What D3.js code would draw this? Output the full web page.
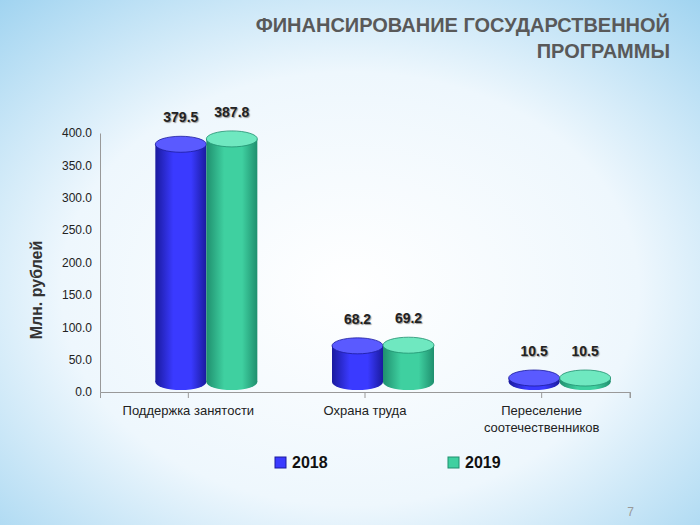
<!DOCTYPE html><html><head><meta charset="utf-8">
<script src="https://cdn.jsdelivr.net/npm/d3@7"></script>
<style>body{margin:0}svg{display:block}</style></head><body>
<script>
const categories=["Поддержка занятости","Охрана труда","Переселение|соотечественников"];
const series=["2018","2019"];
const values2018=[379.5,68.2,10.5];
const values2019=[387.8,69.2,10.5];
const yTicks=[0,50,100,150,200,250,300,350,400];
const colors={"2018":["#1a1a9e","#3a3aff","#5a5aff"],"2019":["#1f8f6e","#3fd0a0","#6fe8c0"]};

const W=700,H=525;
const svg=d3.select("body").append("svg").attr("width",W).attr("height",H).style("font-family","Arial, Liberation Sans, sans-serif");
const defs=svg.append("defs");
const bg=defs.append("radialGradient").attr("id","bg").attr("cx","50%").attr("cy","55%").attr("r","75%");
bg.append("stop").attr("offset","0%").attr("stop-color","#ffffff");
bg.append("stop").attr("offset","55%").attr("stop-color","#eef7fd");
bg.append("stop").attr("offset","100%").attr("stop-color","#9fd3f0");
svg.append("rect").attr("width",W).attr("height",H).attr("fill","url(#bg)");
series.forEach(s=>{
 const g=defs.append("linearGradient").attr("id","g"+s);
 g.append("stop").attr("offset","0%").attr("stop-color",colors[s][0]);
 g.append("stop").attr("offset","35%").attr("stop-color",colors[s][1]);
 g.append("stop").attr("offset","70%").attr("stop-color",colors[s][1]);
 g.append("stop").attr("offset","100%").attr("stop-color",colors[s][0]);
});
svg.append("text").attr("x",670).attr("y",32).attr("text-anchor","end").attr("font-size",20).attr("font-weight","bold").attr("fill","#595959").text("ФИНАНСИРОВАНИЕ ГОСУДАРСТВЕННОЙ");
svg.append("text").attr("x",670).attr("y",58).attr("text-anchor","end").attr("font-size",20).attr("font-weight","bold").attr("fill","#595959").text("ПРОГРАММЫ");

const x=d3.scaleBand().domain(categories).range([100,630]);
const y=d3.scaleLinear().domain([0,400]).range([392,133]);
const yAxis=svg.append("g").attr("transform","translate(100,0)").call(d3.axisLeft(y).tickValues(yTicks).tickFormat(d3.format(".1f")).tickSize(0).tickPadding(8));
yAxis.select(".domain").attr("stroke","#999");
yAxis.selectAll("text").attr("font-size",12).attr("fill","#222");
const xAxis=svg.append("g").attr("transform","translate(0,392)").call(d3.axisBottom(x).tickSize(6).tickFormat(""));
xAxis.selectAll("line,path").attr("stroke","#999");
svg.append("line").attr("x1",630).attr("x2",630).attr("y1",392).attr("y2",398).attr("stroke","#999");
categories.forEach(c=>{
 const lines=c.split("|");
 lines.forEach((l,i)=>svg.append("text").attr("x",x(c)+x.bandwidth()/2).attr("y",415+i*17).attr("text-anchor","middle").attr("font-size",13).attr("fill","#222").text(l));
});
svg.append("text").attr("transform","translate(42,290) rotate(-90)").attr("text-anchor","middle").attr("font-size",16).attr("font-weight","bold").attr("fill","#333").text("Млн. рублей");

const data={"2018":values2018,"2019":values2019};
const ry=8, bw=51, shift=18, lift=10;
series.forEach(s=>{
 categories.forEach((c,i)=>{
  const v=data[s][i];
  const cx=x(c)+x.bandwidth()/2+shift+(s==="2018"?-bw/2:bw/2);
  const top=y(v)-lift+ry, bot=y(0)-lift;
  const t=Math.min(top,bot-4);
  const g=svg.append("g");
  g.append("ellipse").attr("cx",cx).attr("cy",bot).attr("rx",bw/2).attr("ry",ry).attr("fill","url(#g"+s+")");
  g.append("rect").attr("x",cx-bw/2).attr("y",t).attr("width",bw).attr("height",bot-t).attr("fill","url(#g"+s+")");
  g.append("ellipse").attr("cx",cx).attr("cy",t).attr("rx",bw/2).attr("ry",ry).attr("fill",colors[s][2]).attr("stroke",colors[s][0]).attr("stroke-width",0.8);
  svg.append("text").attr("x",cx).attr("y",t-22).attr("text-anchor","middle").attr("font-size",14).attr("font-weight","bold").attr("fill","#222").style("text-shadow","1px 1px 1px #999").text(v.toFixed(1));
 });
});
const leg=[{s:"2018",x:275},{s:"2019",x:448}];
leg.forEach(l=>{
 svg.append("rect").attr("x",l.x).attr("y",457).attr("width",11).attr("height",11).attr("fill",colors[l.s][1]).attr("stroke",colors[l.s][0]);
 svg.append("text").attr("x",l.x+17).attr("y",468).attr("font-size",16).attr("font-weight","bold").attr("fill","#111").text(l.s);
});
svg.append("text").attr("x",634).attr("y",516).attr("text-anchor","end").attr("font-size",12).attr("fill","#999").text("7");
</script></body></html>
